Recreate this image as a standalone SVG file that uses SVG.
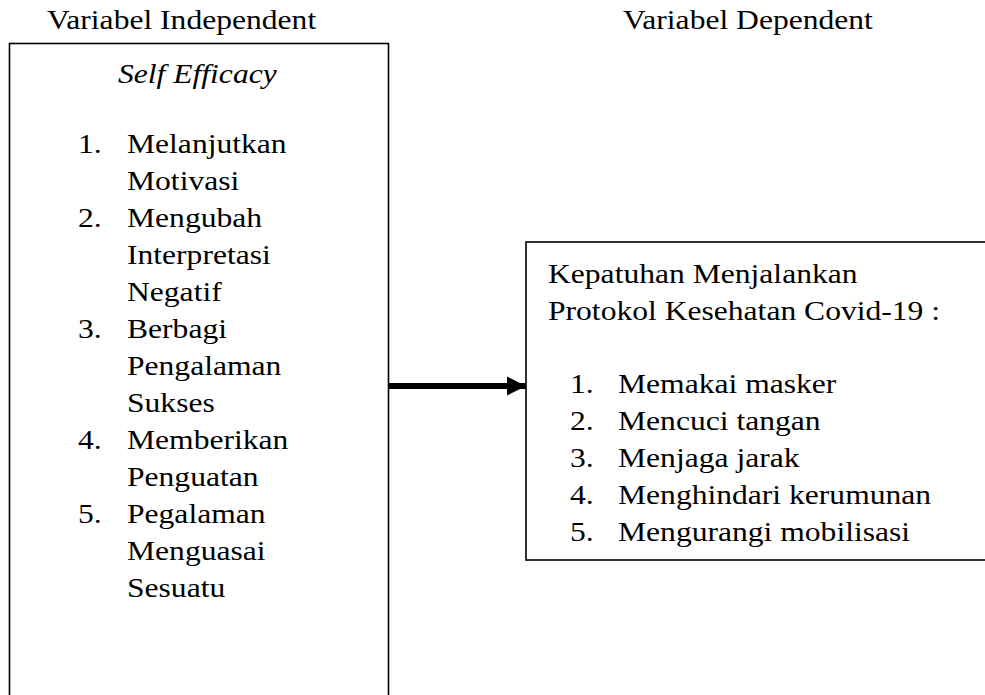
<svg xmlns="http://www.w3.org/2000/svg" width="985" height="695" viewBox="0 0 985 695">
<defs>
<style>
text{font-family:"Liberation Serif","Times New Roman",serif;font-size:27px;fill:#000}
.it{font-style:italic}
.box{fill:#fff;stroke:#000;stroke-width:1.6}
</style>
<marker id="ah" markerUnits="userSpaceOnUse" markerWidth="20" markerHeight="20" refX="19" refY="10" orient="auto">
<path d="M0,0.5 L19,10 L0,19.5 Z" fill="#000"/>
</marker>
</defs>
<rect width="985" height="695" fill="#fff"/>
<g id="title-independent"><text transform="matrix(1.17 0 0 1 47 29)">Variabel Independent</text></g>
<g id="title-dependent"><text transform="matrix(1.17 0 0 1 623 29)">Variabel Dependent</text></g>
<g id="node-self-efficacy">
<rect class="box" x="9.5" y="43.5" width="379" height="700"/>
<text class="it" transform="matrix(1.17 0 0 1 118 83)">Self Efficacy</text>
<text transform="matrix(1.17 0 0 1 78 153)">1.</text>
<text transform="matrix(1.17 0 0 1 127 153)">Melanjutkan</text>
<text transform="matrix(1.17 0 0 1 127 190)">Motivasi</text>
<text transform="matrix(1.17 0 0 1 78 227)">2.</text>
<text transform="matrix(1.17 0 0 1 127 227)">Mengubah</text>
<text transform="matrix(1.17 0 0 1 127 264)">Interpretasi</text>
<text transform="matrix(1.17 0 0 1 127 301)">Negatif</text>
<text transform="matrix(1.17 0 0 1 78 338)">3.</text>
<text transform="matrix(1.17 0 0 1 127 338)">Berbagi</text>
<text transform="matrix(1.17 0 0 1 127 375)">Pengalaman</text>
<text transform="matrix(1.17 0 0 1 127 412)">Sukses</text>
<text transform="matrix(1.17 0 0 1 78 449)">4.</text>
<text transform="matrix(1.17 0 0 1 127 449)">Memberikan</text>
<text transform="matrix(1.17 0 0 1 127 486)">Penguatan</text>
<text transform="matrix(1.17 0 0 1 78 523)">5.</text>
<text transform="matrix(1.17 0 0 1 127 523)">Pegalaman</text>
<text transform="matrix(1.17 0 0 1 127 560)">Menguasai</text>
<text transform="matrix(1.17 0 0 1 127 597)">Sesuatu</text>
</g>
<g id="node-kepatuhan">
<rect class="box" x="526" y="242" width="470" height="318"/>
<text transform="matrix(1.17 0 0 1 548 283)">Kepatuhan Menjalankan</text>
<text transform="matrix(1.17 0 0 1 548 320)">Protokol Kesehatan Covid-19 :</text>
<text transform="matrix(1.17 0 0 1 570 393)">1.</text>
<text transform="matrix(1.17 0 0 1 618 393)">Memakai masker</text>
<text transform="matrix(1.17 0 0 1 570 430)">2.</text>
<text transform="matrix(1.17 0 0 1 618 430)">Mencuci tangan</text>
<text transform="matrix(1.17 0 0 1 570 467)">3.</text>
<text transform="matrix(1.17 0 0 1 618 467)">Menjaga jarak</text>
<text transform="matrix(1.17 0 0 1 570 504)">4.</text>
<text transform="matrix(1.17 0 0 1 618 504)">Menghindari kerumunan</text>
<text transform="matrix(1.17 0 0 1 570 541)">5.</text>
<text transform="matrix(1.17 0 0 1 618 541)">Mengurangi mobilisasi</text>
</g>
<g id="connectors">
<line x1="389" y1="386" x2="526" y2="386" stroke="#000" stroke-width="6" marker-end="url(#ah)"/>
</g>
</svg>
